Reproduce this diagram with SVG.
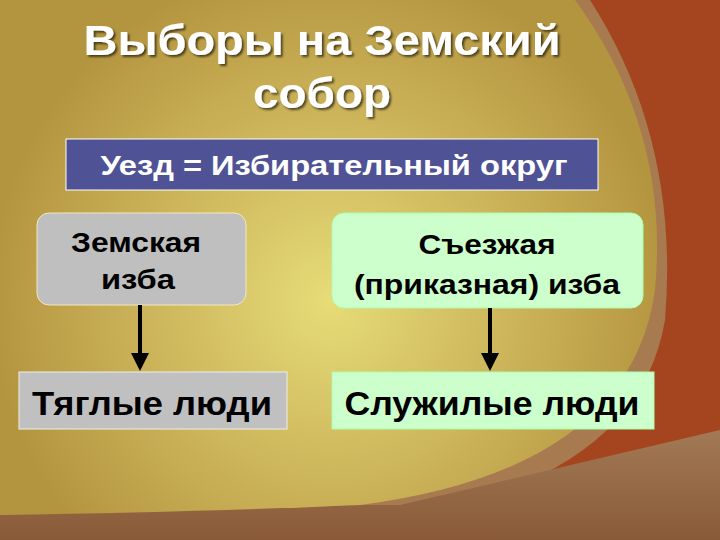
<svg xmlns="http://www.w3.org/2000/svg" width="720" height="540" viewBox="0 0 720 540">
<defs>
<radialGradient id="gold" cx="330" cy="300" r="340" gradientUnits="userSpaceOnUse">
<stop offset="0" stop-color="#e6dc78"/><stop offset="0.6" stop-color="#c9b057"/><stop offset="1" stop-color="#b4953f"/>
</radialGradient>
<linearGradient id="bot" x1="0" y1="0" x2="0" y2="1"><stop offset="0" stop-color="#a27a55"/><stop offset="1" stop-color="#8a5a38"/></linearGradient>
<filter id="sh"><feDropShadow dx="2" dy="2" stdDeviation="1.2" flood-color="#000" flood-opacity="0.6"/></filter>
</defs>
<style>
.t{font-family:"Liberation Sans",Arial,sans-serif;text-anchor:middle;font-weight:bold}
</style>
<rect width="720" height="540" fill="#a4451f"/>
<path d="M0,0 L590,0 Q680,140 665,320 Q640,470 420,515 L0,540 Z" fill="#a87a50"/>
<path d="M0,505 L400,505 L720,430 L720,540 L0,540 Z" fill="url(#bot)"/>
<path d="M0,0 L575,0 Q670,130 655,290 Q630,470 360,505 Q200,512 0,515 Z" fill="url(#gold)"/>
<g id="title" class="t" fill="#fff" font-size="42" filter="url(#sh)">
<text x="322" y="55" textLength="477" lengthAdjust="spacingAndGlyphs">Выборы на Земский</text><text x="322" y="108" textLength="138" lengthAdjust="spacingAndGlyphs">собор</text>
</g>
<g id="uezd"><rect x="66" y="139" width="532" height="51" fill="#4f5294" stroke="#fff" stroke-width="1"/>
<text class="t" x="334" y="175" font-size="28" fill="#fff" textLength="467" lengthAdjust="spacingAndGlyphs">Уезд = Избирательный округ</text></g>
<g id="zemskaya"><rect x="37" y="213" width="209" height="92" rx="12" fill="#bfbfbf" stroke="#f0e8c0" stroke-width="1"/>
<text class="t" x="136" y="252" font-size="28" textLength="130" lengthAdjust="spacingAndGlyphs">Земская</text><text class="t" x="138" y="289" font-size="28" textLength="74" lengthAdjust="spacingAndGlyphs">изба</text></g>
<g id="sezzhaya"><rect x="332" y="213" width="311" height="95" rx="12" fill="#ccffcc" stroke="#aaffaa" stroke-width="1"/>
<text class="t" x="487" y="254" font-size="28" textLength="137" lengthAdjust="spacingAndGlyphs">Съезжая</text><text class="t" x="487" y="294" font-size="28" textLength="266" lengthAdjust="spacingAndGlyphs">(приказная) изба</text></g>
<g id="tyaglye"><rect x="19" y="372" width="268" height="57" fill="#c0c0c0" stroke="#eee" stroke-width="1"/>
<text class="t" x="152" y="415" font-size="33" textLength="240" lengthAdjust="spacingAndGlyphs">Тяглые люди</text></g>
<g id="sluzhilye"><rect x="332" y="372" width="322" height="57" fill="#ccffcc" stroke="#aaffaa" stroke-width="1"/>
<text class="t" x="492" y="415" font-size="33" textLength="295" lengthAdjust="spacingAndGlyphs">Служилые люди</text></g>
<g id="connectors">
<line x1="140" y1="305" x2="140" y2="354" stroke="#000" stroke-width="4"/>
<polygon points="131,353 149,353 140,371" fill="#000"/>
<line x1="490" y1="308" x2="490" y2="354" stroke="#000" stroke-width="4"/>
<polygon points="481,353 499,353 490,371" fill="#000"/>
</g>
</svg>
